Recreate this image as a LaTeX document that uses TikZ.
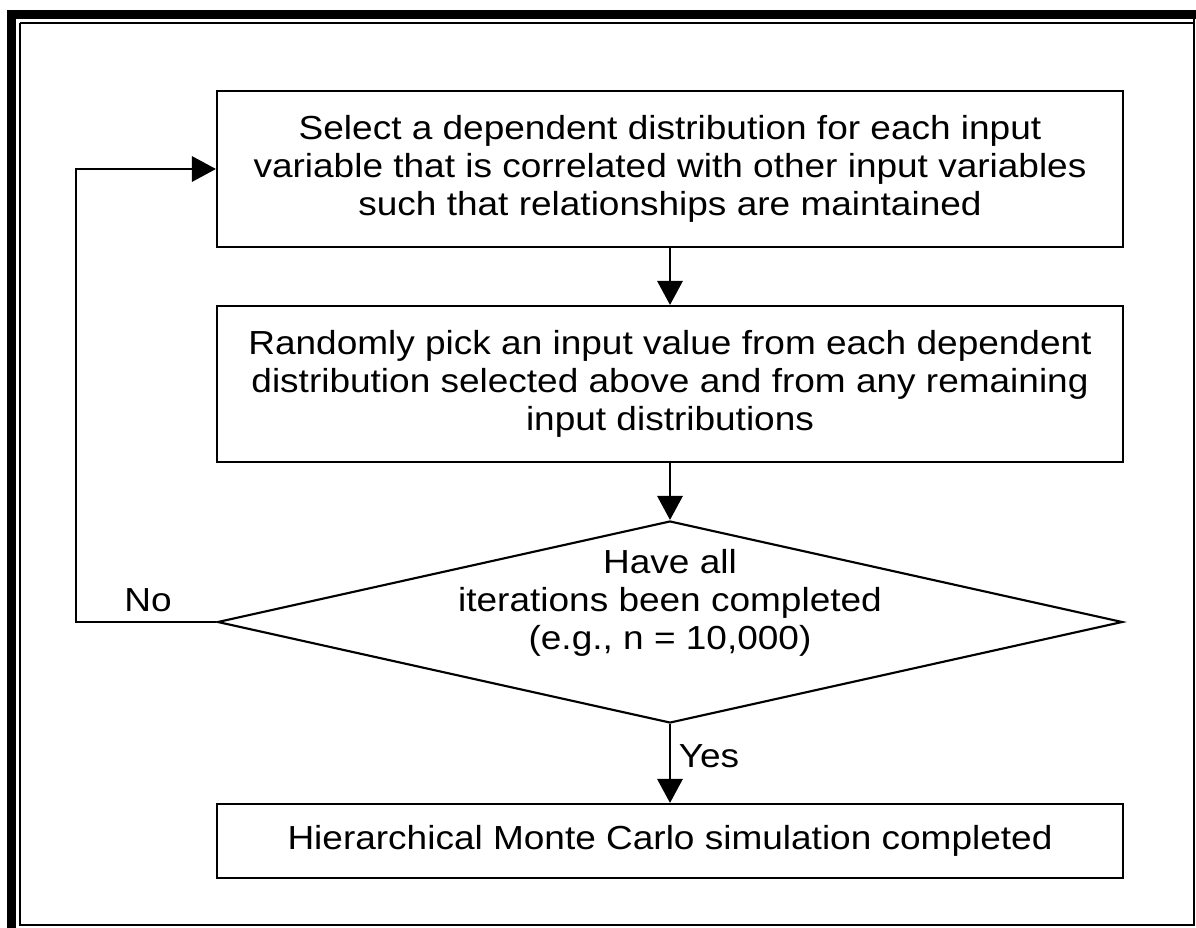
\documentclass[tikz,border=0pt]{standalone}
\usepackage{fontspec}
\setmainfont[FakeStretch=1.11]{Liberation Sans}
\usetikzlibrary{arrows.meta,shapes.geometric}
\begin{document}
\begin{tikzpicture}[x=0.75pt,y=-0.75pt,
  font=\fontsize{25pt}{28.5pt}\selectfont,
  stepbox/.style={draw,line width=1.6pt,minimum width=679.5pt,align=center,inner sep=0pt},
  decision/.style={draw,diamond,line width=1.6pt,minimum width=678.75pt,minimum height=151.5pt,inner sep=0pt,aspect=4.5},
  flow/.style={line width=1.6pt,-{Triangle[length=18pt,width=19pt]}},
  tag/.style={inner sep=0pt}]
% page and frame
\fill[white] (0,0) rectangle (1196,928);
\useasboundingbox (0,0) rectangle (1196,928);
\fill[black] (7,10) rectangle (16,928);
\fill[black] (7,10) rectangle (1196,19);
\draw[line width=1.2pt] (20,23) -- (20,925) -- (1194,925) -- (1194,19);
\draw[line width=1pt] (20,23) -- (1194,23);

% process steps
\node[stepbox,minimum height=117pt] (select) at (670,169)
  {Select a dependent distribution for each input\\
   variable that is correlated with other input variables\\
   such that relationships are maintained};
\node[stepbox,minimum height=117pt] (pick) at (670,384)
  {Randomly pick an input value from each dependent\\
   distribution selected above and from any remaining\\
   input distributions};
\node[decision] (check) at (670,622) {};
\node[tag,align=center] (checktext) at (670,603)
  {Have all\\ iterations been completed\\ (e.g., n = 10,000)};
\node[stepbox,minimum height=55.5pt] (done) at (670,841)
  {Hierarchical Monte Carlo simulation completed};

% connectors
\draw[flow] (select) -- (pick);
\draw[flow] (pick) -- (check);
\draw[flow] (check) -- (done);
\coordinate (loopdown) at (76,622);
\coordinate (loopup) at (76,169);
\draw[flow] (check.west) -- (loopdown) -- (loopup) -- (select.west);

% branch labels
\node[tag] (no) at (148,600) {No};
\node[tag] (yes) at (709,756) {Yes};
\end{tikzpicture}
\end{document}
